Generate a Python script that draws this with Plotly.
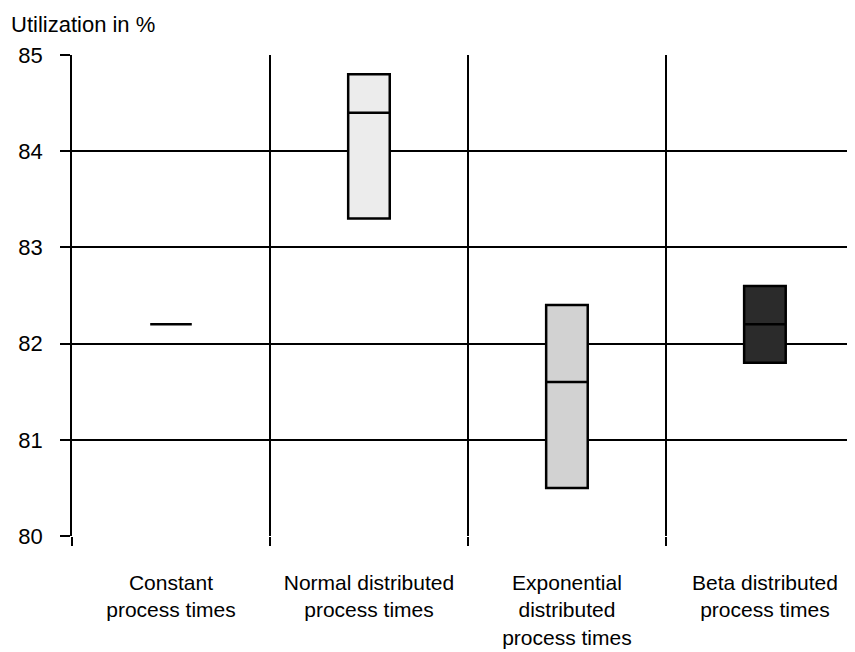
import plotly.graph_objects as go

categories = ["Constant<br>process times", "Normal distributed<br>process times",
              "Exponential<br>distributed<br>process times", "Beta distributed<br>process times"]
positions = [0.5, 1.5, 2.5, 3.5]
q1 = [82.2, 83.3, 80.5, 81.8]
median = [82.2, 84.4, 81.6, 82.2]
q3 = [82.2, 84.8, 82.4, 82.6]
fills = ["#ffffff", "#ececec", "#d2d2d2", "#2b2b2b"]
y_ticks = [80, 81, 82, 83, 84, 85]

FONT = "Liberation Sans, Arial, sans-serif"

fig = go.Figure()
for i in range(len(categories)):
    fig.add_trace(go.Box(
        x=[positions[i]], q1=[q1[i]], median=[median[i]], q3=[q3[i]],
        lowerfence=[q1[i]], upperfence=[q3[i]],
        width=0.21, fillcolor=fills[i],
        line=dict(color="black", width=2.5),
        boxpoints=False, showlegend=False, hoverinfo="skip",
    ))

fig.update_layout(
    width=847, height=644,
    margin=dict(l=64, r=0, t=47, b=116),
    paper_bgcolor="white", plot_bgcolor="white",
    font=dict(family=FONT, size=22, color="black"),
    xaxis=dict(
        range=[0, 3.955], tickmode="array", tickvals=positions, ticktext=categories,
        showgrid=False, ticks="", zeroline=False, showline=False,
        ticklabelstandoff=32, automargin=False,
        tickfont=dict(family=FONT, size=21, color="black"),
        minor=dict(tickmode="array", tickvals=[0, 1, 2, 3], showgrid=True,
                   gridcolor="black", gridwidth=1.5, ticks="outside", ticklen=9,
                   tickcolor="black", tickwidth=1.5),
    ),
    yaxis=dict(
        range=[80, 85], tickmode="array", tickvals=y_ticks,
        showgrid=True, gridcolor="black", gridwidth=2,
        ticks="outside", ticklen=10, tickcolor="black", tickwidth=1.5,
        showline=True, linecolor="black", linewidth=1.5,
        zeroline=False, ticklabelstandoff=13, automargin=False,
    ),
    annotations=[dict(text="Utilization in %", xref="paper", yref="paper",
                      x=0, y=1, xanchor="left", yanchor="bottom",
                      xshift=-63, yshift=16, showarrow=False,
                      font=dict(family=FONT, size=22, color="black"))],
)

fig.write_html("out.html")
